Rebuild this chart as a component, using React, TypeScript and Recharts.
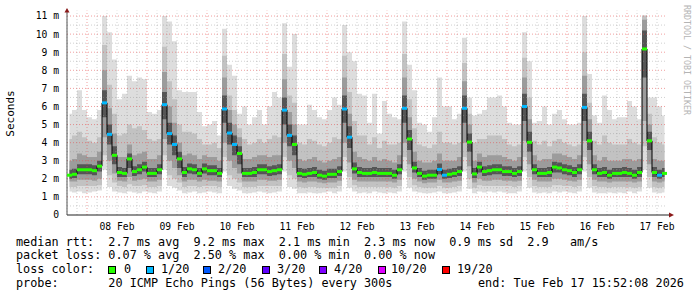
import React from 'react';
import { ComposedChart, Area, Line, Scatter, XAxis, YAxis, ReferenceLine, ReferenceDot } from 'recharts';

// ---- axis / tick data ----
const dayLabels = ['08 Feb', '09 Feb', '10 Feb', '11 Feb', '12 Feb', '13 Feb', '14 Feb', '15 Feb', '16 Feb', '17 Feb'];
const labelHours = [20, 44, 68, 92, 116, 140, 164, 188, 212, 236];
const midnightHours = [8, 32, 56, 80, 104, 128, 152, 176, 200, 224];
const minorHours = [0, 4, 12, 16, 20, 24, 28, 36, 40, 44, 48, 52, 60, 64, 68, 72, 76, 84, 88, 92, 96, 100, 108, 112, 116, 120, 124, 132, 136, 140, 144, 148, 156, 160, 164, 168, 172, 180, 184, 188, 192, 196, 204, 208, 212, 216, 220, 228, 232, 236];
const yTicks = [0, 1, 2, 3, 4, 5, 6, 7, 8, 9, 10, 11];
const yMinor = [0.5, 1.5, 2.5, 3.5, 4.5, 5.5, 6.5, 7.5, 8.5, 9.5, 10.5];

const binHours = 2;

// ---- series (ms), one value per 2-hour bin ----
const median = [
  2.2, 2.25, 2.5, 2.5, 2.5, 2.45, 2.7, 6.2, 4.46, 3.3, 2.35, 2.3,
  3.1, 2.4, 2.5, 2.65, 2.3, 2.3, 2.5, 6.1, 4.5, 3.9, 3.1, 2.35,
  2.55, 2.5, 2.3, 2.55, 2.45, 2.45, 2.3, 5.86, 4.53, 3.9, 3.4, 2.3,
  2.3, 2.35, 2.5, 2.5, 2.4, 2.45, 2.5, 5.8, 4.4, 3.9, 2.3, 2.25,
  2.3, 2.35, 2.2, 2.15, 2.25, 2.25, 2.4, 5.86, 4.3, 2.55, 2.35, 2.3,
  2.3, 2.35, 2.3, 2.3, 2.3, 2.2, 2.5, 5.9, 4.2, 2.6, 2.3, 2.15,
  2.2, 2.2, 2.52, 2.2, 2.25, 2.3, 2.4, 5.9, 4.03, 2.27, 2.65, 2.4,
  2.45, 2.5, 2.5, 2.4, 2.4, 2.3, 2.4, 6.0, 4.02, 2.5, 2.3, 2.3,
  2.35, 2.65, 2.6, 2.5, 2.45, 2.35, 2.5, 5.95, 4.1, 2.5, 2.3, 2.35,
  2.2, 2.3, 2.3, 2.35, 2.3, 2.2, 2.35, 9.18, 4.1, 2.35, 2.2, 2.3,
];
const lossCount = [
  0, 0, 0, 0, 0, 0, 0, 1, 1, 0, 0, 0,
  0, 0, 0, 0, 0, 0, 0, 1, 1, 1, 0, 0,
  0, 0, 0, 0, 0, 0, 0, 1, 1, 1, 0, 0,
  0, 0, 0, 0, 0, 0, 0, 1, 1, 0, 0, 0,
  0, 0, 0, 0, 0, 0, 0, 1, 1, 0, 0, 0,
  0, 0, 0, 0, 0, 0, 0, 1, 0, 0, 0, 0,
  0, 0, 1, 1, 0, 0, 0, 1, 0, 0, 0, 0,
  0, 0, 0, 0, 0, 0, 0, 1, 0, 0, 0, 0,
  0, 0, 0, 0, 0, 0, 0, 1, 0, 0, 0, 0,
  0, 0, 0, 0, 0, 0, 0, 0, 0, 0, 1, 0,
];
const pingMax = [
  5.6, 5.8, 6.9, 5.8, 5.4, 5.3, 5.8, 11.0, 10.1, 8.6, 6.4, 6.7,
  7.7, 7.4, 7.6, 7.5, 5.7, 5.6, 5.8, 11.0, 10.7, 9.6, 6.9, 6.8,
  6.8, 6.8, 5.7, 4.9, 5.0, 5.2, 4.4, 10.3, 8.3, 7.7, 5.6, 6.0,
  5.0, 5.4, 5.8, 5.0, 6.0, 6.8, 6.5, 10.6, 8.2, 10.0, 5.0, 5.0,
  6.1, 5.8, 5.4, 5.3, 5.8, 6.5, 6.1, 10.5, 9.0, 8.5, 6.7, 6.6,
  5.1, 6.7, 4.5, 6.3, 5.6, 5.4, 5.3, 10.7, 8.3, 6.9, 5.1, 5.0,
  4.6, 5.4, 7.6, 6.0, 6.0, 5.3, 5.6, 9.8, 6.5, 5.5, 5.6, 5.8,
  6.5, 6.5, 6.6, 6.0, 5.1, 5.0, 5.0, 10.1, 8.5, 5.1, 5.2, 6.0,
  5.0, 5.6, 5.8, 5.3, 5.0, 5.0, 5.1, 11.0, 7.8, 5.5, 5.1, 6.6,
  5.8, 5.3, 5.4, 5.4, 6.3, 6.0, 5.3, 11.05, 6.5, 6.5, 6.0, 5.5,
];
const p17 = [
  4.2, 4.4, 4.6, 4.3, 4.1, 4.0, 4.3, 9.4, 7.2, 5.6, 4.4, 4.5,
  5.0, 4.8, 4.9, 4.7, 4.2, 4.1, 4.2, 9.3, 7.4, 6.4, 5.0, 4.6,
  4.6, 4.5, 4.2, 3.9, 3.9, 4.0, 3.7, 8.8, 6.6, 5.8, 4.8, 4.2,
  3.9, 4.0, 4.2, 4.0, 4.2, 4.4, 4.3, 8.9, 6.6, 6.2, 4.0, 3.9,
  4.2, 4.1, 3.9, 3.8, 4.0, 4.3, 4.2, 8.8, 6.8, 5.2, 4.4, 4.4,
  3.9, 4.3, 3.7, 4.1, 3.9, 3.9, 4.0, 8.9, 6.4, 4.8, 3.9, 3.8,
  3.7, 3.9, 4.6, 4.0, 4.0, 3.9, 4.0, 8.4, 5.6, 4.0, 4.2, 4.2,
  4.4, 4.4, 4.4, 4.2, 3.9, 3.8, 3.9, 8.7, 6.5, 4.1, 3.9, 4.1,
  3.8, 4.1, 4.2, 4.0, 3.9, 3.8, 3.9, 9.0, 6.2, 4.1, 3.9, 4.4,
  4.0, 3.9, 3.9, 3.9, 4.2, 4.0, 3.9, 11.0, 5.6, 4.3, 4.0, 3.9,
];
const p14 = [
  3.0, 3.1, 3.4, 3.3, 3.2, 3.2, 3.5, 8.0, 5.9, 4.5, 3.2, 3.2,
  3.9, 3.3, 3.4, 3.5, 3.1, 3.1, 3.3, 7.9, 6.0, 5.1, 4.0, 3.3,
  3.4, 3.3, 3.1, 3.3, 3.2, 3.2, 3.0, 7.6, 5.8, 5.0, 4.3, 3.1,
  3.1, 3.2, 3.3, 3.3, 3.2, 3.3, 3.3, 7.5, 5.7, 5.0, 3.1, 3.0,
  3.1, 3.2, 3.0, 2.9, 3.0, 3.1, 3.2, 7.6, 5.6, 3.5, 3.2, 3.1,
  3.0, 3.2, 3.0, 3.1, 3.0, 2.9, 3.3, 7.6, 5.4, 3.5, 3.0, 2.9,
  2.9, 3.0, 3.4, 3.0, 3.0, 3.0, 3.2, 7.4, 5.0, 3.0, 3.4, 3.2,
  3.3, 3.3, 3.3, 3.2, 3.1, 3.0, 3.2, 7.6, 5.3, 3.3, 3.0, 3.1,
  3.1, 3.4, 3.4, 3.3, 3.2, 3.1, 3.3, 7.7, 5.3, 3.3, 3.0, 3.2,
  3.0, 3.0, 3.0, 3.1, 3.1, 3.0, 3.1, 10.8, 5.0, 3.1, 3.0, 3.0,
];
const p11 = [
  2.5, 2.55, 2.8, 2.8, 2.8, 2.75, 3.0, 6.9, 5.0, 3.8, 2.65, 2.6,
  3.4, 2.7, 2.8, 2.95, 2.6, 2.6, 2.8, 6.8, 5.1, 4.4, 3.5, 2.65,
  2.85, 2.8, 2.6, 2.85, 2.75, 2.75, 2.6, 6.6, 5.1, 4.4, 3.8, 2.6,
  2.6, 2.65, 2.8, 2.8, 2.7, 2.75, 2.8, 6.5, 5.0, 4.4, 2.6, 2.55,
  2.6, 2.65, 2.5, 2.45, 2.55, 2.55, 2.7, 6.6, 4.9, 2.9, 2.65, 2.6,
  2.6, 2.65, 2.6, 2.6, 2.6, 2.5, 2.8, 6.6, 4.7, 2.95, 2.6, 2.45,
  2.5, 2.5, 2.85, 2.5, 2.55, 2.6, 2.7, 6.6, 4.5, 2.6, 2.95, 2.7,
  2.75, 2.8, 2.8, 2.7, 2.7, 2.6, 2.7, 6.7, 4.6, 2.8, 2.6, 2.6,
  2.65, 2.95, 2.9, 2.8, 2.75, 2.65, 2.8, 6.7, 4.6, 2.8, 2.6, 2.65,
  2.5, 2.6, 2.6, 2.65, 2.6, 2.5, 2.65, 10.2, 4.6, 2.65, 2.5, 2.6,
];
const p8 = [
  2.0, 2.05, 2.25, 2.25, 2.25, 2.2, 2.4, 5.4, 3.9, 2.8, 2.1, 2.1,
  2.6, 2.15, 2.25, 2.4, 2.1, 2.1, 2.25, 5.3, 3.9, 3.3, 2.6, 2.1,
  2.3, 2.25, 2.1, 2.3, 2.2, 2.2, 2.1, 5.1, 3.9, 3.3, 2.8, 2.1,
  2.1, 2.1, 2.25, 2.25, 2.15, 2.2, 2.25, 5.0, 3.8, 3.3, 2.1, 2.05,
  2.1, 2.1, 2.0, 1.95, 2.05, 2.05, 2.15, 5.1, 3.7, 2.3, 2.1, 2.1,
  2.1, 2.1, 2.1, 2.1, 2.1, 2.0, 2.25, 5.1, 3.6, 2.35, 2.1, 1.95,
  2.0, 2.0, 2.25, 2.0, 2.05, 2.1, 2.15, 5.1, 3.5, 2.05, 2.35, 2.15,
  2.2, 2.25, 2.25, 2.15, 2.15, 2.1, 2.15, 5.2, 3.5, 2.25, 2.1, 2.1,
  2.1, 2.35, 2.35, 2.25, 2.2, 2.1, 2.25, 5.2, 3.6, 2.25, 2.1, 2.1,
  2.0, 2.1, 2.1, 2.1, 2.1, 2.0, 2.1, 7.6, 3.6, 2.1, 2.0, 2.1,
];
const p5 = [
  1.85, 1.85, 1.95, 1.95, 1.95, 1.9, 2.0, 4.3, 3.0, 2.3, 1.9, 1.85,
  2.1, 1.9, 1.95, 2.0, 1.85, 1.85, 1.95, 4.2, 3.0, 2.6, 2.2, 1.85,
  1.95, 1.95, 1.85, 1.95, 1.9, 1.9, 1.85, 4.0, 3.0, 2.6, 2.3, 1.85,
  1.85, 1.85, 1.95, 1.95, 1.9, 1.9, 1.95, 4.0, 3.0, 2.6, 1.85, 1.8,
  1.85, 1.85, 1.8, 1.75, 1.8, 1.8, 1.9, 4.0, 2.9, 1.95, 1.85, 1.85,
  1.85, 1.85, 1.85, 1.85, 1.85, 1.8, 1.95, 4.0, 2.8, 2.0, 1.85, 1.75,
  1.8, 1.8, 1.95, 1.8, 1.8, 1.85, 1.9, 4.0, 2.7, 1.8, 2.0, 1.9,
  1.9, 1.95, 1.95, 1.9, 1.9, 1.85, 1.9, 4.1, 2.8, 1.95, 1.85, 1.85,
  1.85, 2.0, 2.0, 1.95, 1.9, 1.85, 1.95, 4.1, 2.8, 1.95, 1.85, 1.85,
  1.8, 1.85, 1.85, 1.85, 1.85, 1.8, 1.85, 5.2, 2.8, 1.85, 1.8, 1.85,
];
const p2 = [
  1.55, 1.55, 1.6, 1.6, 1.6, 1.6, 1.65, 3.3, 2.2, 1.8, 1.6, 1.55,
  1.7, 1.6, 1.6, 1.65, 1.55, 1.55, 1.6, 3.3, 2.2, 2.0, 1.8, 1.55,
  1.6, 1.6, 1.55, 1.6, 1.6, 1.6, 1.55, 3.2, 2.2, 2.0, 1.8, 1.55,
  1.55, 1.55, 1.6, 1.6, 1.6, 1.6, 1.6, 3.2, 2.2, 2.0, 1.55, 1.5,
  1.55, 1.55, 1.5, 1.5, 1.5, 1.5, 1.6, 3.2, 2.1, 1.65, 1.55, 1.55,
  1.55, 1.55, 1.55, 1.55, 1.55, 1.5, 1.6, 3.2, 2.1, 1.65, 1.55, 1.5,
  1.5, 1.5, 1.6, 1.5, 1.5, 1.55, 1.6, 3.2, 2.0, 1.5, 1.65, 1.6,
  1.6, 1.6, 1.6, 1.6, 1.6, 1.55, 1.6, 3.2, 2.1, 1.6, 1.55, 1.55,
  1.55, 1.65, 1.65, 1.6, 1.6, 1.55, 1.6, 3.2, 2.1, 1.6, 1.55, 1.55,
  1.5, 1.55, 1.55, 1.55, 1.55, 1.5, 1.55, 3.8, 2.1, 1.55, 1.5, 1.55,
];
const pingMin = [
  1.3, 1.25, 1.3, 1.2, 1.25, 1.3, 1.35, 2.5, 1.55, 1.3, 1.25, 1.2,
  1.3, 1.25, 1.2, 1.3, 1.25, 1.2, 1.3, 2.5, 1.6, 1.5, 1.35, 1.2,
  1.25, 1.3, 1.2, 1.25, 1.3, 1.25, 1.2, 2.4, 1.6, 1.45, 1.35, 1.2,
  1.2, 1.25, 1.3, 1.25, 1.2, 1.25, 1.3, 2.4, 1.55, 1.45, 1.2, 1.2,
  1.25, 1.2, 1.2, 1.25, 1.3, 1.2, 1.3, 2.4, 1.5, 1.3, 1.2, 1.25,
  1.2, 1.3, 1.25, 1.2, 1.25, 1.2, 1.3, 2.4, 1.5, 1.3, 1.25, 1.2,
  1.2, 1.25, 1.3, 1.2, 1.2, 1.25, 1.3, 2.4, 1.45, 1.2, 1.3, 1.25,
  1.3, 1.25, 1.3, 1.25, 1.2, 1.2, 1.3, 2.4, 1.5, 1.25, 1.2, 1.25,
  1.2, 1.3, 1.25, 1.3, 1.25, 1.2, 1.3, 2.4, 1.5, 1.25, 1.2, 1.2,
  1.25, 1.2, 1.25, 1.2, 1.3, 1.2, 1.3, 2.5, 1.5, 1.25, 1.2, 1.25,
];

const lossColors: Record<number, string> = { 0: '#26ff00', 1: '#00b8ff', 2: '#0059ff', 3: '#5e00ff', 4: '#7e00ff', 10: '#dd00ff', 19: '#ff0000' };
const lossLegend = [
  { label: '0', count: 0, boxX: 108, textX: 124 },
  { label: '1/20', count: 1, boxX: 146, textX: 161 },
  { label: '2/20', count: 2, boxX: 203, textX: 218 },
  { label: '3/20', count: 3, boxX: 262, textX: 277 },
  { label: '4/20', count: 4, boxX: 319, textX: 334 },
  { label: '10/20', count: 10, boxX: 378, textX: 391 },
  { label: '19/20', count: 19, boxX: 442, textX: 457 },
];

const data = median.map((m, i) => ({
  t: i * binHours + binHours / 2,
  med: m,
  loss: lossCount[i],
  b0: [pingMin[i], pingMax[i]],
  b1: [p2[i], p17[i]],
  b2: [p5[i], p14[i]],
  b3: [p8[i], p11[i]],
}));

const mono = '"DejaVu Sans Mono", monospace';
const majorGrid = 'rgba(230, 80, 80, 0.55)';
const minorGrid = 'rgba(150, 150, 150, 0.45)';

const MedianMark = (props: any) => {
  const { cx, cy, payload } = props;
  if (cx == null || cy == null) return null;
  return <rect x={cx - 2.5} y={cy - 1.5} width={5} height={3} fill={lossColors[payload.loss]} />;
};

const UpArrow = (props: any) => {
  const { cx, cy } = props;
  return (
    <g>
      <line x1={cx} y1={cy} x2={cx} y2={cy - 1} stroke="#555" />
      <polygon points={`${cx - 2.5},${cy + 2} ${cx + 2.5},${cy + 2} ${cx},${cy - 2.5}`} fill="#8b1a1a" />
    </g>
  );
};
const RightArrow = (props: any) => {
  const { cx, cy } = props;
  return (
    <g>
      <line x1={cx} y1={cy} x2={cx + 4} y2={cy} stroke="#222" />
      <polygon points={`${cx + 2},${cy - 2.5} ${cx + 2},${cy + 2.5} ${cx + 7},${cy}`} fill="#8b1a1a" />
    </g>
  );
};

export default function App() {
  return (
    <div style={{ position: 'absolute', left: 0, top: 0, width: 697, height: 297, background: '#fff', fontFamily: mono, color: '#000' }}>
      <ComposedChart width={697} height={297} data={data} margin={{ top: 10.6, right: 30, bottom: 62, left: 0 }}>
        <XAxis
          dataKey="t"
          type="number"
          domain={[0, 240]}
          ticks={labelHours}
          tickFormatter={(v: number) => dayLabels[labelHours.indexOf(v)]}
          tickLine={false}
          axisLine={{ stroke: '#222' }}
          height={20}
          interval={0}
          tick={{ fontFamily: mono, fontSize: 9.7, fill: '#000' }}
          allowDataOverflow
        />
        <YAxis
          type="number"
          domain={[0, 11.3]}
          ticks={yTicks}
          tickFormatter={(v: number) => (v === 0 ? '0' : `${v} m`)}
          tickLine={false}
          axisLine={{ stroke: '#555' }}
          width={67}
          interval={0}
          tick={{ fontFamily: mono, fontSize: 9.7, fill: '#000' }}
          allowDataOverflow
        />
        <Area type="step" dataKey="b0" fill="#dddddd" fillOpacity={1} stroke="none" isAnimationActive={false} dot={false} activeDot={false} />
        <Area type="step" dataKey="b1" fill="#c2c2c2" fillOpacity={1} stroke="none" isAnimationActive={false} dot={false} activeDot={false} />
        <Area type="step" dataKey="b2" fill="#9c9c9c" fillOpacity={1} stroke="none" isAnimationActive={false} dot={false} activeDot={false} />
        <Area type="step" dataKey="b3" fill="#555555" fillOpacity={1} stroke="none" isAnimationActive={false} dot={false} activeDot={false} />
        {minorHours.map((h) => (
          <ReferenceLine key={`vx${h}`} x={h} stroke={minorGrid} strokeDasharray="1 2" />
        ))}
        {yMinor.map((v) => (
          <ReferenceLine key={`hy${v}`} y={v} stroke={minorGrid} strokeDasharray="1 2" />
        ))}
        {midnightHours.map((h) => (
          <ReferenceLine key={`mx${h}`} x={h} stroke={majorGrid} strokeDasharray="1 2" />
        ))}
        {yTicks.filter((v) => v > 0).map((v) => (
          <ReferenceLine key={`my${v}`} y={v} stroke={majorGrid} strokeDasharray="1 2" />
        ))}
        <Line type="step" dataKey="med" stroke="#000" strokeWidth={1} dot={false} activeDot={false} isAnimationActive={false} />
        <Scatter dataKey="med" shape={MedianMark} isAnimationActive={false} />
        <ReferenceDot x={0} y={11.3} r={0} shape={UpArrow} ifOverflow="visible" />
        <ReferenceDot x={240} y={0} r={0} shape={RightArrow} ifOverflow="visible" />
      </ComposedChart>

      <div style={{ position: 'absolute', left: 3, top: 106, width: 14, height: 14, display: 'flex', alignItems: 'center', justifyContent: 'center' }}>
        <div style={{ transform: 'rotate(-90deg)', fontSize: 11, whiteSpace: 'pre', fontFamily: mono }}>Seconds</div>
      </div>
      <div style={{ position: 'absolute', left: 680, top: 53, width: 14, height: 14, display: 'flex', alignItems: 'center', justifyContent: 'center' }}>
        <div style={{ transform: 'rotate(90deg)', fontSize: 8.3, whiteSpace: 'pre', color: '#b4b4b4', fontFamily: mono }}>RRDTOOL / TOBI OETIKER</div>
      </div>

      <div style={{ position: 'absolute', left: 16, top: 234.5, fontSize: 11.8, lineHeight: '14px', whiteSpace: 'pre' }}>
        median rtt:  2.7 ms avg  9.2 ms max  2.1 ms min  2.3 ms now  0.9 ms sd  2.9   am/s
      </div>
      <div style={{ position: 'absolute', left: 16, top: 248, fontSize: 11.8, lineHeight: '14px', whiteSpace: 'pre' }}>
        packet loss: 0.07 % avg  2.50 % max  0.00 % min  0.00 % now
      </div>
      <div style={{ position: 'absolute', left: 16, top: 262, fontSize: 11.8, lineHeight: '14px', whiteSpace: 'pre' }}>loss color:</div>
      {lossLegend.map((l) => (
        <React.Fragment key={l.label}>
          <div style={{ position: 'absolute', left: l.boxX, top: 265.5, width: 8, height: 8, boxSizing: 'border-box', border: '1px solid #000', background: lossColors[l.count] }} />
          <div style={{ position: 'absolute', left: l.textX, top: 262, fontSize: 11.8, lineHeight: '14px', whiteSpace: 'pre' }}>{l.label}</div>
        </React.Fragment>
      ))}
      <div style={{ position: 'absolute', left: 16, top: 275.7, fontSize: 11.8, lineHeight: '14px', whiteSpace: 'pre' }}>
        probe:       20 ICMP Echo Pings (56 Bytes) every 300s
      </div>
      <div style={{ position: 'absolute', left: 478, top: 275.7, fontSize: 11.8, lineHeight: '14px', whiteSpace: 'pre' }}>
        end: Tue Feb 17 15:52:08 2026
      </div>
    </div>
  );
}
